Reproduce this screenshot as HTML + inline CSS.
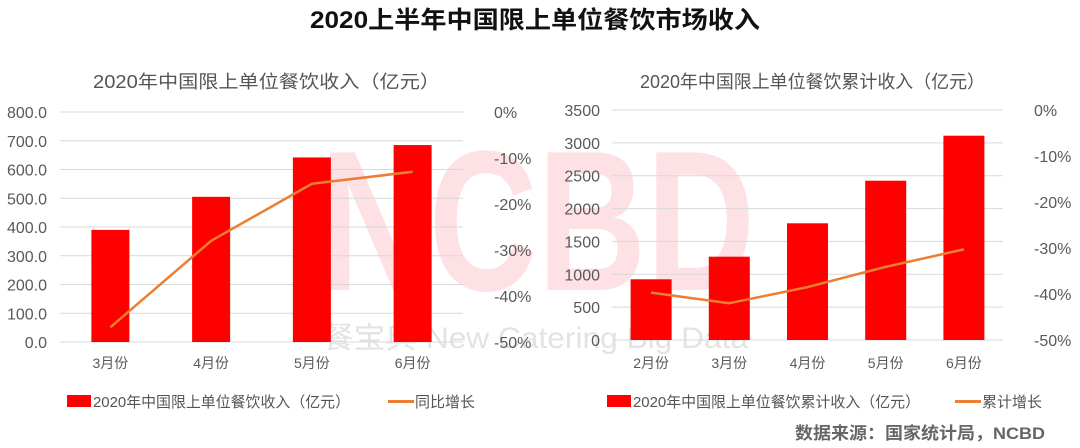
<!DOCTYPE html>
<html><head><meta charset="utf-8">
<style>
html,body{margin:0;padding:0;background:#fff;}
svg{display:block;font-family:"Liberation Sans","Noto Sans CJK SC",sans-serif;}
</style></head>
<body>
<svg id="chart" width="1080" height="448" viewBox="0 0 1080 448" xmlns="http://www.w3.org/2000/svg">
<text x="320" y="290" font-size="200" font-weight="bold" fill="#fde1e5" textLength="435" lengthAdjust="spacingAndGlyphs">NCBD</text>
<text x="322" y="348" font-size="30" fill="#e3e3e3" textLength="426" lengthAdjust="spacingAndGlyphs">餐宝典 New Catering Big Data</text>
<text x="310" y="28" font-size="24" font-weight="bold" fill="#111" textLength="450" lengthAdjust="spacingAndGlyphs">2020上半年中国限上单位餐饮市场收入</text>
<text x="93" y="88" font-size="18" fill="#555" textLength="347" lengthAdjust="spacingAndGlyphs">2020年中国限上单位餐饮收入（亿元）</text>
<text x="640" y="88" font-size="18" fill="#555" textLength="345" lengthAdjust="spacingAndGlyphs">2020年中国限上单位餐饮累计收入（亿元）</text>
<g id="grids"></g>
<g id="marks"></g>
<g>
<rect x="67" y="395" width="24" height="12" fill="#ff0000"/>
<text x="93" y="407" font-size="15" fill="#555" textLength="257" lengthAdjust="spacingAndGlyphs">2020年中国限上单位餐饮收入（亿元）</text>
<rect x="388" y="400" width="26" height="3" fill="#ed7d31"/>
<text x="415" y="407" font-size="15" fill="#555">同比增长</text>
</g>
<g>
<rect x="607" y="395" width="24" height="12" fill="#ff0000"/>
<text x="633" y="407" font-size="15" fill="#555" textLength="287" lengthAdjust="spacingAndGlyphs">2020年中国限上单位餐饮累计收入（亿元）</text>
<rect x="955" y="400" width="26" height="3" fill="#ed7d31"/>
<text x="982" y="407" font-size="15" fill="#555">累计增长</text>
</g>
<text x="795" y="439" font-size="17" font-weight="bold" fill="#666" textLength="250" lengthAdjust="spacingAndGlyphs">数据来源：国家统计局，NCBD</text>
</svg>
<script>
const leftCategories = ["3月份","4月份","5月份","6月份"];
const leftRevenue = [390, 505, 642, 685];
const leftGrowth = [-46.8, -28.0, -15.6, -13.0];
const leftTicks = ["0.0","100.0","200.0","300.0","400.0","500.0","600.0","700.0","800.0"];
const rightCategories = ["2月份","3月份","4月份","5月份","6月份"];
const rightRevenue = [924, 1268, 1776, 2424, 3109];
const rightGrowth = [-39.7, -42.0, -38.5, -34.1, -30.3];
const rightTicks = ["0","500","1000","1500","2000","2500","3000","3500"];
const pctTicks = ["-50%","-40%","-30%","-20%","-10%","0%"];

const NS = "http://www.w3.org/2000/svg";
const grids = document.getElementById('grids');
const marks = document.getElementById('marks');
function mk(tag, attrs, parent){const e=document.createElementNS(NS,tag);for(const k in attrs)e.setAttribute(k,attrs[k]);parent.appendChild(e);return e;}

function drawChart(p){
  const {x0,x1,yTop,yBot,maxV,cats,vals,growth,ticks,barW,prefix,leftLabelX,rightLabelX}=p;
  const yV=v=>yBot-(v/maxV)*(yBot-yTop);
  const yP=v=>yTop+(-v/50)*(yBot-yTop);
  const bw=(x1-x0)/cats.length;
  const cx=i=>x0+bw*(i+0.5);
  ticks.forEach((t,i)=>{
    const v=maxV*i/(ticks.length-1);
    const y=yV(v);
    const l=mk('line',{x1:x0,x2:x1,y1:y,y2:y,stroke:'#d9d9d9','stroke-width':1},grids);
    
    
    const tx=mk('text',{x:leftLabelX,y:y+6,'text-anchor':'end','font-size':16,fill:'#595959'},grids);
    tx.textContent=t;
    
    
  });
  pctTicks.forEach((t,i)=>{
    const v=-50+10*i;
    const tx=mk('text',{x:rightLabelX,y:yP(v)+6,'text-anchor':'start','font-size':16,fill:'#595959'},grids);
    tx.textContent=t;
    
    
  });
  cats.forEach((c,i)=>{
    const tx=mk('text',{x:cx(i),y:368,'text-anchor':'middle','font-size':14,fill:'#595959'},grids);
    tx.textContent=c;
    
    
  });
  vals.forEach((v,i)=>{
    const r=mk('rect',{x:cx(i)-barW/2,y:yV(v),width:barW,height:yBot-yV(v),fill:'#ff0000'},marks);
    
    
  });
  const pts=growth.map((g,i)=>cx(i)+','+yP(g)).join(' ');
  const pl=mk('polyline',{points:pts,fill:'none',stroke:'#ed7d31','stroke-width':2.5,'stroke-linejoin':'round'},marks);
  
  
}
drawChart({x0:60,x1:463,yTop:112,yBot:342,maxV:800,cats:leftCategories,vals:leftRevenue,growth:leftGrowth,ticks:leftTicks,barW:38,prefix:'left',leftLabelX:47,rightLabelX:494});
drawChart({x0:612,x1:1003,yTop:110,yBot:340,maxV:3500,cats:rightCategories,vals:rightRevenue,growth:rightGrowth,ticks:rightTicks,barW:41,prefix:'right',leftLabelX:600,rightLabelX:1034});
</script>
</body></html>
